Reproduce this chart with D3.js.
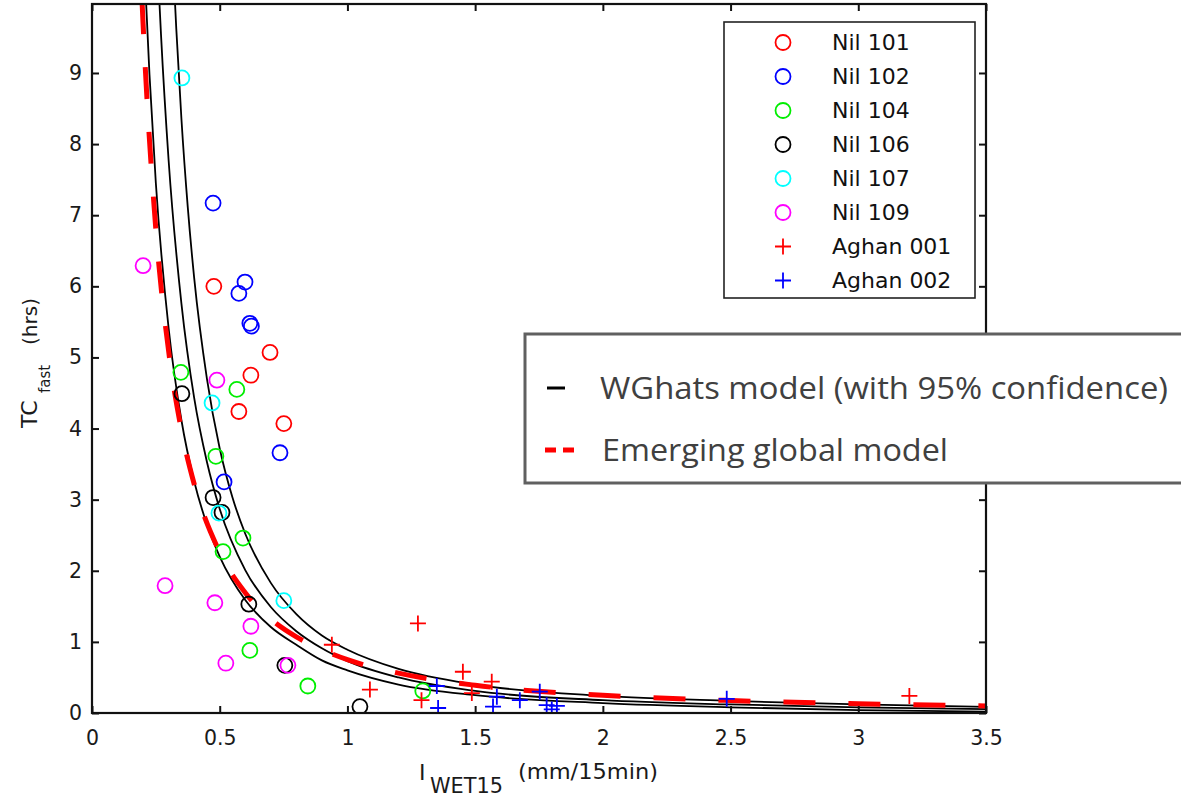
<!DOCTYPE html>
<html>
<head>
<meta charset="utf-8">
<script src="https://cdn.jsdelivr.net/npm/d3@7"></script>
<style>
  body { margin: 0; background: #fff; }
  svg { display: block; font-family: "DejaVu Sans", sans-serif; }
</style>
</head>
<body>
<div id="chart"></div>
<script>
// observed series, [I_WET15, TC_fast]
var nil101 = [[0.477, 6.0], [0.697, 5.07], [0.622, 4.75], [0.575, 4.24], [0.751, 4.07]];
var nil102 = [[0.474, 7.17], [0.599, 6.06], [0.575, 5.90], [0.618, 5.48], [0.624, 5.44], [0.736, 3.66], [0.517, 3.25]];
var nil104 = [[0.348, 4.79], [0.567, 4.55], [0.485, 3.61], [0.591, 2.46], [0.513, 2.27], [0.618, 0.88], [0.845, 0.38], [1.295, 0.31]];
var nil106 = [[0.352, 4.49], [0.474, 3.03], [0.509, 2.82], [0.614, 1.53], [0.755, 0.67], [1.049, 0.09]];
var nil107 = [[0.352, 8.93], [0.470, 4.36], [0.497, 2.81], [0.751, 1.58]];
var nil109 = [[0.200, 6.29], [0.489, 4.68], [0.286, 1.79], [0.481, 1.55], [0.622, 1.22], [0.524, 0.70], [0.767, 0.67]];
var aghan001 = [[0.939, 0.96], [1.088, 0.33], [1.276, 1.26], [1.29, 0.18], [1.452, 0.58], [1.487, 0.28], [1.565, 0.44], [3.20, 0.24]];
var aghan002 = [[1.355, 0.07], [1.35, 0.38], [1.57, 0.09], [1.585, 0.23], [1.675, 0.18], [1.753, 0.30], [1.78, 0.11], [1.80, 0.05], [1.82, 0.10], [2.485, 0.20]];

// model curves, [I_WET15, TC_fast]
var wgLower = [[0.2, 11.05], [0.21, 10.13], [0.225, 8.98], [0.25, 7.45], [0.3, 5.41], [0.35, 4.12], [0.4, 3.26], [0.45, 2.65], [0.5, 2.20], [0.6, 1.59], [0.7, 1.21], [0.8, 0.96], [0.9, 0.74], [1.0, 0.60], [1.2, 0.40], [1.5, 0.25], [2.0, 0.14], [2.5, 0.08], [3.0, 0.04], [3.5, 0.02]];
var wgMid = [[0.26, 10.28], [0.27, 9.55], [0.3, 7.77], [0.35, 5.76], [0.4, 4.43], [0.45, 3.53], [0.5, 2.87], [0.6, 2.01], [0.7, 1.49], [0.8, 1.15], [0.9, 0.91], [1.0, 0.73], [1.2, 0.50], [1.5, 0.31], [2.0, 0.18], [2.5, 0.12], [3.0, 0.08], [3.5, 0.055]];
var wgUpper = [[0.32, 10.35], [0.33, 9.62], [0.35, 8.36], [0.375, 7.11], [0.4, 6.12], [0.45, 4.70], [0.5, 3.72], [0.55, 3.03], [0.6, 2.52], [0.7, 1.83], [0.8, 1.39], [0.9, 1.09], [1.0, 0.89], [1.2, 0.62], [1.5, 0.40], [2.0, 0.24], [2.5, 0.17], [3.0, 0.12], [3.5, 0.085]];
var globalModel = [[0.196, 10.0], [0.2, 9.69], [0.25, 6.80], [0.3, 5.09], [0.35, 3.98], [0.4, 3.22], [0.5, 2.26], [0.6, 1.69], [0.7, 1.32], [0.8, 1.07], [0.9, 0.89], [1.0, 0.75], [1.2, 0.56], [1.5, 0.39], [2.0, 0.25], [2.5, 0.175], [3.0, 0.13], [3.5, 0.10]];

var xTicks = [0, 0.5, 1, 1.5, 2, 2.5, 3, 3.5];
var yTicks = [0, 1, 2, 3, 4, 5, 6, 7, 8, 9];

var series = [
  { name: 'Nil 101', data: nil101, color: '#ff0000', marker: 'o' },
  { name: 'Nil 102', data: nil102, color: '#0000ff', marker: 'o' },
  { name: 'Nil 104', data: nil104, color: '#00ee00', marker: 'o' },
  { name: 'Nil 106', data: nil106, color: '#000000', marker: 'o' },
  { name: 'Nil 107', data: nil107, color: '#00ffff', marker: 'o' },
  { name: 'Nil 109', data: nil109, color: '#ff00ff', marker: 'o' },
  { name: 'Aghan 001', data: aghan001, color: '#ff0000', marker: '+' },
  { name: 'Aghan 002', data: aghan002, color: '#0000ff', marker: '+' }
];

var width = 1181, height = 797;
var margin = { left: 92, right: 195, top: 4, bottom: 84 };
var yMax = 9.97;

var svg = d3.select('#chart').append('svg')
  .attr('width', width)
  .attr('height', height);

var x = d3.scaleLinear().domain([0, 3.5]).range([margin.left, width - margin.right]);
var y = d3.scaleLinear().domain([0, yMax]).range([height - margin.bottom, margin.top]);

svg.append('clipPath').attr('id', 'plotclip')
  .append('rect')
  .attr('x', x(0)).attr('y', y(yMax))
  .attr('width', x(3.5) - x(0)).attr('height', y(0) - y(yMax));

var plot = svg.append('g').attr('clip-path', 'url(#plotclip)');

var line = d3.line()
  .x(function(d) { return x(d[0]); })
  .y(function(d) { return y(d[1]); })
  .curve(d3.curveMonotoneX);

[wgLower, wgMid, wgUpper].forEach(function(c) {
  plot.append('path')
    .datum(c)
    .attr('d', line)
    .attr('fill', 'none')
    .attr('stroke', '#000')
    .attr('stroke-width', 1.8);
});

plot.append('path')
  .datum(globalModel)
  .attr('d', line)
  .attr('fill', 'none')
  .attr('stroke', '#ff0000')
  .attr('stroke-width', 5)
  .attr('stroke-dasharray', '32,33');

function drawMarker(g, marker, color, cx, cy) {
  if (marker === 'o') {
    g.append('circle')
      .attr('cx', cx).attr('cy', cy).attr('r', 7.5)
      .attr('fill', 'none')
      .attr('stroke', color)
      .attr('stroke-width', 1.8);
  } else {
    g.append('path')
      .attr('d', 'M' + (cx - 8) + ',' + cy + 'H' + (cx + 8) + 'M' + cx + ',' + (cy - 8) + 'V' + (cy + 8))
      .attr('stroke', color)
      .attr('stroke-width', 1.8)
      .attr('fill', 'none');
  }
}

var marks = plot.append('g').attr('class', 'marks');
series.forEach(function(s) {
  s.data.forEach(function(d) {
    drawMarker(marks, s.marker, s.color, x(d[0]), y(d[1]));
  });
});

// axes frame, matlab style ticks inside on all four sides
var tickLen = 7;
var axisG = svg.append('g').attr('class', 'axes');
axisG.append('rect')
  .attr('x', x(0)).attr('y', y(yMax))
  .attr('width', x(3.5) - x(0)).attr('height', y(0) - y(yMax))
  .attr('fill', 'none')
  .attr('stroke', '#111')
  .attr('stroke-width', 2.2);

var xBottom = d3.axisBottom(x).tickValues(xTicks).tickSize(-tickLen).tickPadding(17)
  .tickFormat(function(d) { return d; });
var xTop = d3.axisTop(x).tickValues(xTicks).tickSize(-tickLen).tickFormat('');
var yLeft = d3.axisLeft(y).tickValues(yTicks).tickSize(-tickLen).tickPadding(10);
var yRight = d3.axisRight(y).tickValues(yTicks).tickSize(-tickLen).tickFormat('');

function styleAxis(g) {
  g.select('.domain').remove();
  g.selectAll('.tick line').attr('stroke', '#111').attr('stroke-width', 2);
  g.selectAll('.tick text')
    .attr('fill', '#1a1a1a')
    .style('font-size', '20.5px')
    .style('font-family', '"DejaVu Sans", sans-serif');
}

axisG.append('g').attr('transform', 'translate(0,' + y(0) + ')').call(xBottom).call(styleAxis);
axisG.append('g').attr('transform', 'translate(0,' + y(yMax) + ')').call(xTop).call(styleAxis);
axisG.append('g').attr('transform', 'translate(' + x(0) + ',0)').call(yLeft).call(styleAxis);
axisG.append('g').attr('transform', 'translate(' + x(3.5) + ',0)').call(yRight).call(styleAxis);

// axis titles
var titles = svg.append('g').attr('fill', '#1a1a1a');
titles.append('text').attr('x', 419).attr('y', 780).style('font-size', '22px').text('I');
titles.append('text').attr('x', 430).attr('y', 793).style('font-size', '21px')
  .attr('textLength', 73).attr('lengthAdjust', 'spacingAndGlyphs').text('WET15');
titles.append('text').attr('x', 518).attr('y', 779).style('font-size', '21px')
  .attr('textLength', 140).attr('lengthAdjust', 'spacingAndGlyphs').text('(mm/15min)');

titles.append('text').attr('transform', 'translate(37,428) rotate(-90)')
  .style('font-size', '22px').text('TC');
titles.append('text').attr('transform', 'translate(50,393) rotate(-90)')
  .style('font-size', '16px').attr('textLength', 28).attr('lengthAdjust', 'spacingAndGlyphs').text('fast');
titles.append('text').attr('transform', 'translate(37,345) rotate(-90)')
  .style('font-size', '20px').attr('textLength', 47).attr('lengthAdjust', 'spacingAndGlyphs').text('(hrs)');

// series legend
var leg = svg.append('g').attr('class', 'legend');
leg.append('rect')
  .attr('x', 724).attr('y', 22)
  .attr('width', 251).attr('height', 276)
  .attr('fill', '#fff')
  .attr('stroke', '#222')
  .attr('stroke-width', 1.6);
series.forEach(function(s, i) {
  var cy = 42.5 + i * 34;
  drawMarker(leg, s.marker, s.color, 783, cy);
  leg.append('text')
    .attr('x', 832).attr('y', cy)
    .attr('dy', '0.36em')
    .attr('fill', '#111')
    .style('font-size', '22px')
    .text(s.name);
});

// model legend
var models = [
  { name: 'WGhats model (with 95% confidence)', color: '#000', dash: null, width: 3 },
  { name: 'Emerging global model', color: '#ff0000', dash: '11,7', width: 5 }
];
var leg2 = svg.append('g').attr('class', 'legend2');
leg2.append('rect')
  .attr('x', 525).attr('y', 334)
  .attr('width', 700).attr('height', 149)
  .attr('fill', '#fff')
  .attr('stroke', '#606060')
  .attr('stroke-width', 3);
models.forEach(function(m, i) {
  var cy = 388 + i * 62;
  leg2.append('line')
    .attr('x1', i === 0 ? 547 : 545).attr('x2', i === 0 ? 565 : 576)
    .attr('y1', cy).attr('y2', cy)
    .attr('stroke', m.color)
    .attr('stroke-width', m.width)
    .attr('stroke-dasharray', m.dash);
  leg2.append('text')
    .attr('x', i === 0 ? 600 : 602).attr('y', cy)
    .attr('dy', '0.35em')
    .attr('fill', '#404040')
    .style('font-family', '"Open Sans", sans-serif')
    .style('font-size', '31px')
    .attr('textLength', i === 0 ? 568 : 346)
    .attr('lengthAdjust', 'spacingAndGlyphs')
    .text(m.name);
});
</script>
</body>
</html>
